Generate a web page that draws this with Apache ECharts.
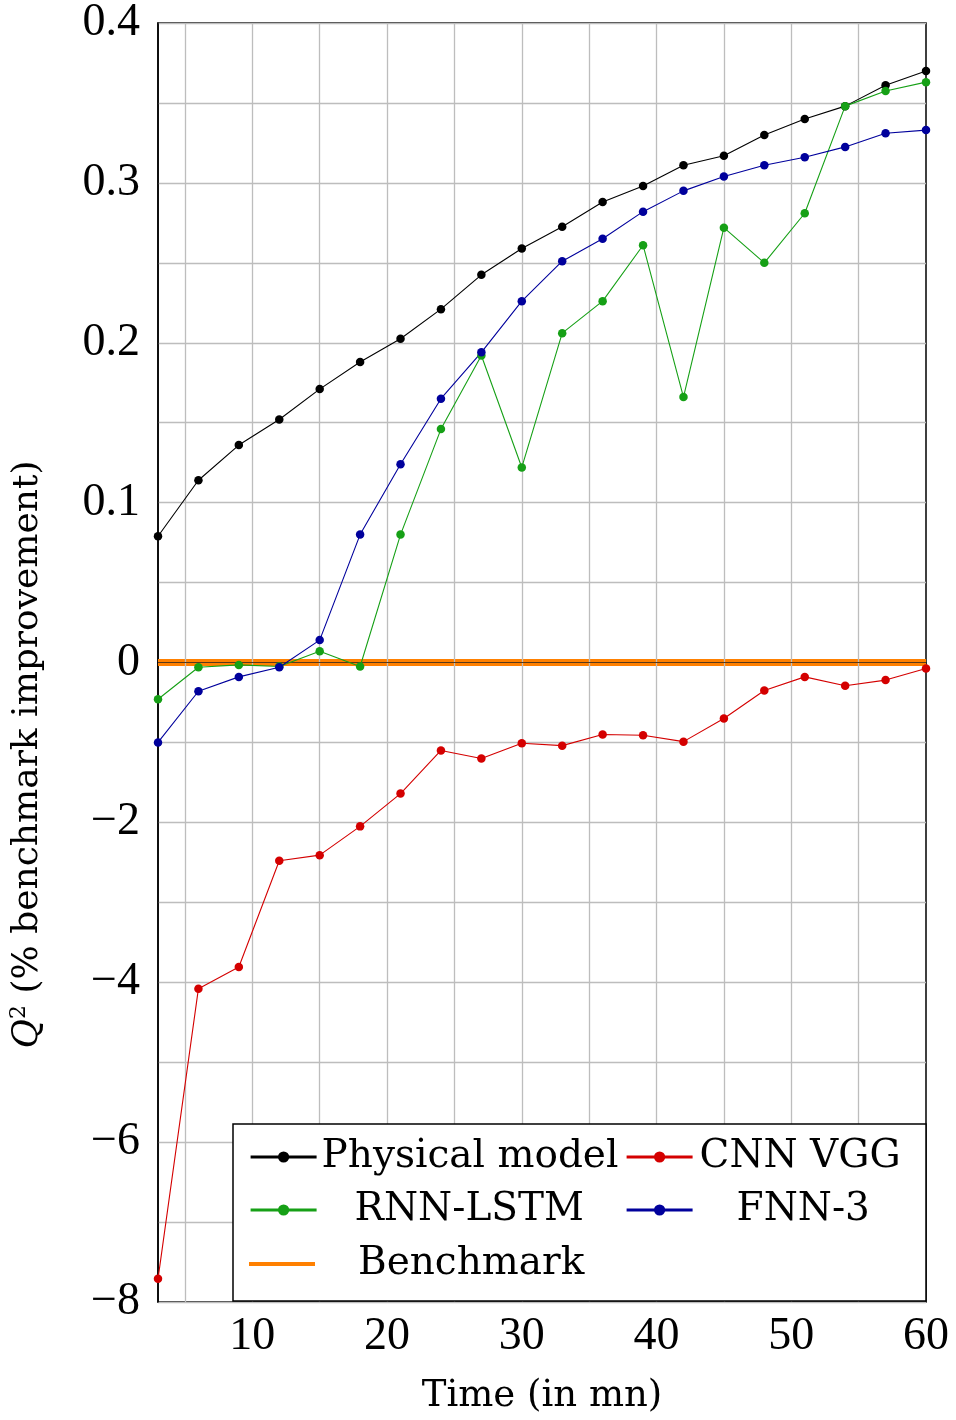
<!DOCTYPE html>
<html><head><meta charset="utf-8">
<script src="https://cdn.jsdelivr.net/npm/echarts@6/dist/echarts.min.js"></script>
<style>html,body{margin:0;padding:0;background:#fff}#c{width:956px;height:1420px}</style>
</head><body><div id="c"></div>
<script>
const times = [3,6,9,12,15,18,21,24,27,30,33,36,39,42,45,48,51,54,57,60];
const physical = [0.079,0.114,0.136,0.152,0.171,0.188,0.2025,0.221,0.2425,0.259,0.2725,0.288,0.298,0.311,0.317,0.33,0.34,0.348,0.361,0.37];
const rnnLstm = [-0.46,-0.06,-0.03,-0.05,0.007,-0.05,0.08,0.146,0.192,0.122,0.206,0.226,0.261,0.166,0.272,0.25,0.281,0.348,0.3575,0.363];
const fnn3 = [-1.0,-0.36,-0.18,-0.06,0.014,0.08,0.124,0.165,0.194,0.226,0.251,0.265,0.282,0.295,0.304,0.311,0.316,0.3225,0.331,0.333];
const cnnVgg = [-7.71,-4.08,-3.81,-2.48,-2.41,-2.05,-1.64,-1.1,-1.2,-1.01,-1.04,-0.9,-0.91,-0.99,-0.7,-0.35,-0.18,-0.29,-0.22,-0.075];
const benchmark = [0,0,0,0,0,0,0,0,0,0,0,0,0,0,0,0,0,0,0,0];
const xTickLabels = [10,20,30,40,50,60];
const xGridTicks = [5,10,15,20,25,30,35,40,45,50,55];

// split y scale: positive part 0..0.4 maps to 0..8, negative part 0..-8 stays
const POS_SCALE = 20;
const tr = v => v >= 0 ? v * POS_SCALE : v;
const pts = arr => arr.map((v,i) => [times[i], tr(v)]);

const FONT = '"Liberation Serif", "DejaVu Serif", serif';
const FONT2 = '"DejaVu Serif", "Liberation Serif", serif';
const chart = echarts.init(document.getElementById('c'), null, {renderer:'canvas'});

function mkSeries(name, arr, color){
  return {name, type:'line', data: pts(arr), symbol:'circle', symbolSize:8.5, showSymbol:true,
    lineStyle:{color, width:1.1}, itemStyle:{color}, z:5, animation:false};
}
function mkLegend(item, left, top, pad, h){
  return {data:[item], left, top, orient:'horizontal', padding:0, itemWidth:66, itemHeight:h || 14, itemGap:9,
    z:20, selectedMode:false,
    lineStyle:{width:3.2},
    textStyle:{fontFamily:FONT2, fontSize:39, color:'#000', lineHeight:50, padding:[0,0,0,pad]}};
}
const option = {
  animation:false,
  backgroundColor:'#fff',
  grid:{left:157, right:30, top:22, bottom:118, show:true, borderColor:'#000', borderWidth:1.5, backgroundColor:'transparent'},
  xAxis:{type:'value', min:3, max:60, interval:1,
    axisLine:{show:true, lineStyle:{color:'#000', width:1.5}},
    axisTick:{show:false},
    splitLine:{show:false},
    axisLabel:{fontFamily:FONT, fontSize:46, color:'#000', margin:12, showMinLabel:false,
      formatter: v => xTickLabels.indexOf(v) >= 0 ? String(v) : ''},
    name:'Time (in mn)', nameLocation:'middle', nameGap:76,
    nameTextStyle:{fontFamily:FONT2, fontSize:37, color:'#000'}
  },
  yAxis:{type:'value', min:-8, max:8, interval:1,
    axisLine:{show:true, lineStyle:{color:'#000', width:1.5}},
    axisTick:{show:false},
    splitLine:{show:true, lineStyle:{color:'#bdbdbd', width:1.3}},
    axisLabel:{fontFamily:FONT, fontSize:46, color:'#000', margin:18,
      formatter: v => {
        if (Math.abs(v) % 2 !== 0) return '';
        if (v > 0) return (v/POS_SCALE).toFixed(1);
        if (v === 0) return '0';
        return '\u2212' + Math.abs(v);
      }},
    name:'{i|Q}{s|2} (% benchmark improvement)', nameLocation:'middle', nameGap:110, nameRotate:90,
    nameTextStyle:{fontFamily:FONT2, fontSize:36, color:'#000', padding:[0,184,0,0],
      rich:{i:{fontFamily:FONT2, fontSize:36, fontStyle:'italic', color:'#000'},
            s:{fontFamily:FONT2, fontSize:22, color:'#000', verticalAlign:'top', padding:[0,0,18,0]}}}
  },
  legend:[
    mkLegend('Physical model', 249, 1132, 0),
    mkLegend('CNN VGG', 625, 1132, 2),
    mkLegend('RNN-LSTM', 249, 1185, 33),
    mkLegend('FNN-3', 625, 1185, 39),
    mkLegend({name:'Benchmark', icon:'rect', itemStyle:{color:'#ff8000'}}, 249, 1239, 38, 4)
  ],
  graphic:[{type:'rect', shape:{x:233, y:1124, width:693, height:177}, style:{fill:'#fff', stroke:'#000', lineWidth:1.5}, z:15}],
  series:[
    {name:'grid', type:'line', data:[], z:0, silent:true,
      markLine:{silent:true, symbol:'none', label:{show:false}, animation:false,
        lineStyle:{color:'#bdbdbd', width:1.3, type:'solid'},
        data: xGridTicks.map(x => ({xAxis:x}))}},
    {name:'Benchmark', type:'line', data: pts(benchmark), symbol:'none', showSymbol:false,
      lineStyle:{color:'#ff8000', width:7}, itemStyle:{color:'#ff8000'}, z:3,
      markLine:{silent:true, symbol:'none', label:{show:false}, lineStyle:{color:'#5a3a1a', width:1, type:'solid'}, data:[{yAxis:0}], animation:false}},
    mkSeries('Physical model', physical, '#000000'),
    mkSeries('CNN VGG', cnnVgg, '#d40000'),
    mkSeries('RNN-LSTM', rnnLstm, '#16a016'),
    mkSeries('FNN-3', fnn3, '#00009c')
  ]
};
chart.setOption(option);
</script></body></html>
